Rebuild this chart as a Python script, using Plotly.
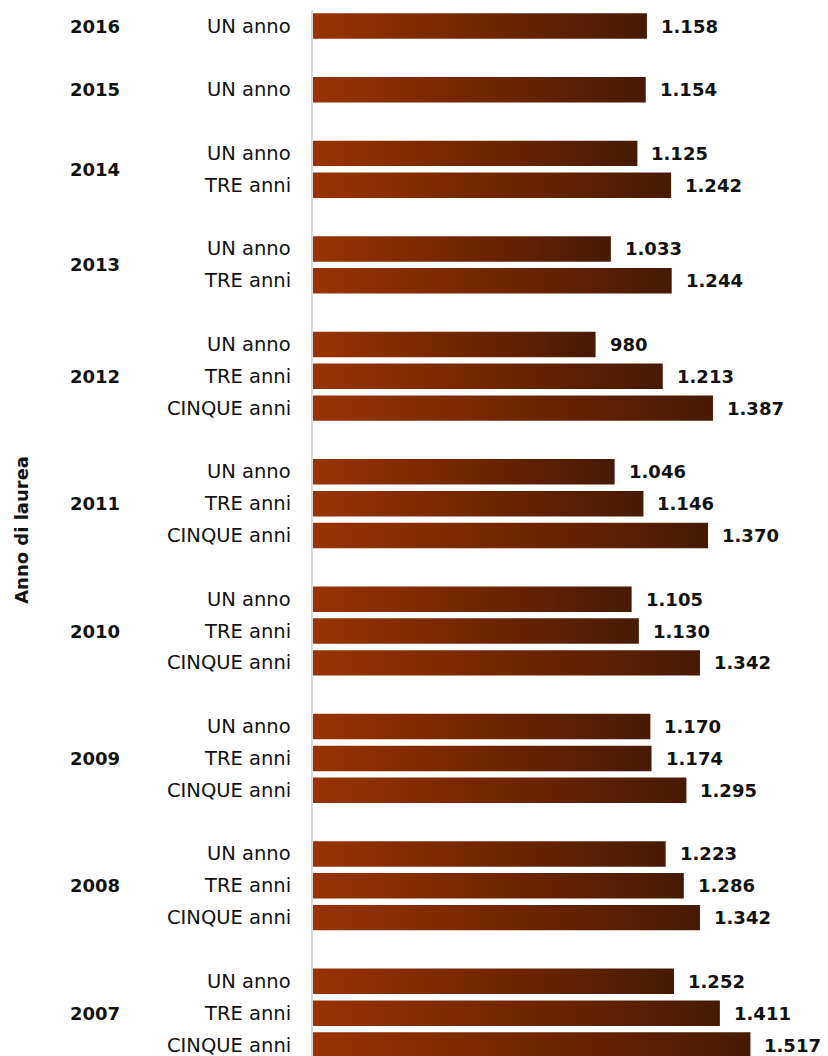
import plotly.graph_objects as go

years = [2016, 2015, 2014, 2013, 2012, 2011, 2010, 2009, 2008, 2007]
un_anno = [1158, 1154, 1125, 1033, 980, 1046, 1105, 1170, 1223, 1252]
tre_anni = [None, None, 1242, 1244, 1213, 1146, 1130, 1174, 1286, 1411]
cinque_anni = [None, None, None, None, 1387, 1370, 1342, 1295, 1342, 1517]
series_labels = ["UN anno", "TRE anni", "CINQUE anni"]
axis_title = "Anno di laurea"

COLORSCALE = [[0, "#993300"], [0.5, "#722600"], [1, "#471a04"]]
HALF = 0.40

fig = go.Figure()
annotations = []
slot = 0
for i, yr in enumerate(years):
    vals = [un_anno[i], tre_anni[i], cinque_anni[i]]
    group_pos = []
    for lab, v in zip(series_labels, vals):
        if v is None:
            continue
        p = slot
        group_pos.append(p)
        fig.add_trace(go.Scatter(
            x=[0, v, v, 0, 0],
            y=[p - HALF, p - HALF, p + HALF, p + HALF, p - HALF],
            mode="lines", fill="toself",
            line=dict(width=0, color="rgba(0,0,0,0)"),
            fillgradient=dict(type="horizontal", colorscale=COLORSCALE),
            hoverinfo="skip", showlegend=False,
        ))
        annotations.append(dict(
            x=v, y=p, xref="x", yref="y", xanchor="left", yanchor="middle",
            xshift=12, showarrow=False,
            text="<b>" + f"{v:,}".replace(",", ".") + "</b>",
            font=dict(family="DejaVu Sans", size=18, color="#111111"),
        ))
        annotations.append(dict(
            x=0, y=p, xref="paper", yref="y", xanchor="right", yanchor="middle",
            xshift=-20, showarrow=False, text=lab,
            font=dict(family="DejaVu Sans", size=19.5, color="#111111"),
        ))
        slot += 1
    annotations.append(dict(
        x=0, y=sum(group_pos) / len(group_pos), xref="paper", yref="y",
        xanchor="center", yanchor="middle", xshift=-218, showarrow=False,
        text=f"<b>{yr}</b>",
        font=dict(family="DejaVu Sans", size=18, color="#111111"),
    ))
    slot += 1

annotations.append(dict(
    x=0, y=0.503, xref="paper", yref="paper", xanchor="center", yanchor="middle",
    xshift=-291, showarrow=False, textangle=-90, text=f"<b>{axis_title}</b>",
    font=dict(family="DejaVu Sans", size=18, color="#111111"),
))

fig.update_layout(
    width=828, height=1056,
    margin=dict(l=313, r=0, t=10, b=0),
    paper_bgcolor="white", plot_bgcolor="white",
    annotations=annotations,
    xaxis=dict(range=[0, 1786], visible=False, fixedrange=True),
    yaxis=dict(range=[32.345, -0.5025], showticklabels=False, showgrid=False,
               zeroline=False, showline=True, linecolor="#d9d9d9", linewidth=2,
               ticks="", fixedrange=True),
)

fig.write_html("out.html")
